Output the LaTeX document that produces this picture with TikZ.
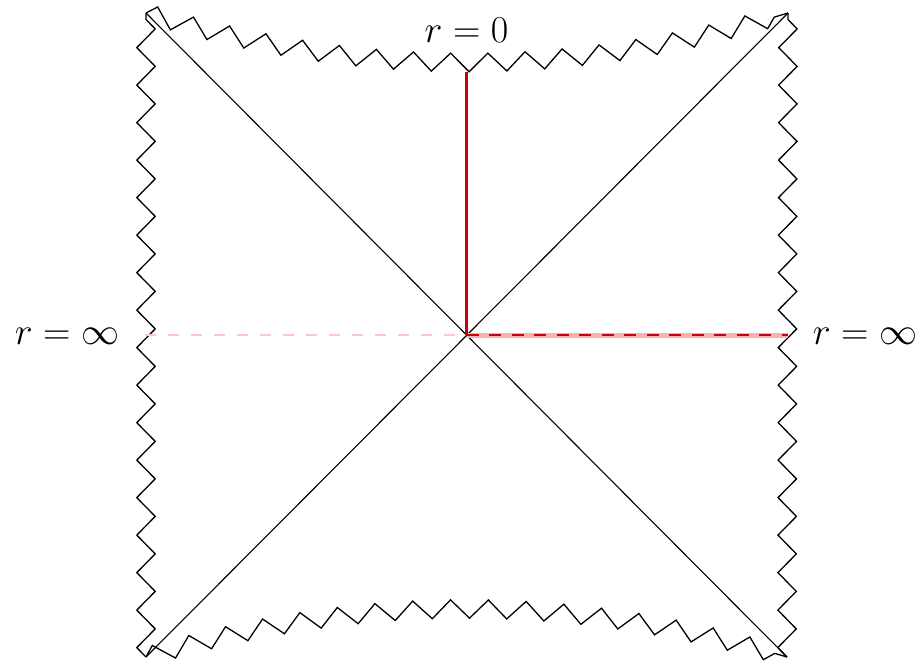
\documentclass[tikz,border=0pt]{standalone}
\usetikzlibrary{decorations.pathmorphing}
\definecolor{dred}{RGB}{200,0,10}
\definecolor{bandpink}{RGB}{250,175,180}
\definecolor{lpink}{RGB}{255,200,200}
\begin{document}
\begin{tikzpicture}[x=0.5pt,y=-0.5pt,
  zz/.style={draw=black, line width=0.65pt, decorate,
    decoration={zigzag, segment length=18.75pt, amplitude=4.6pt}},
  diag/.style={draw=black, line width=0.55pt},
  redline/.style={draw=dred, line width=1.5pt},
  bandline/.style={draw=bandpink, line width=2.5pt},
  reddash/.style={draw=dred, line width=1.2pt, dash pattern=on 6pt off 5.25pt},
  pinkdash/.style={draw=lpink, line width=0.7pt, dash pattern=on 5.5pt off 6pt},
  lbl/.style={inner sep=0pt, font=\huge, scale=0.916}]
\useasboundingbox (0,0) rectangle (923,664);
\coordinate (TL) at (146,13);
\coordinate (TR) at (788,13);
\coordinate (BL) at (146,657);
\coordinate (BR) at (787,657);
\coordinate (C) at (466.5,335);
\coordinate (T) at (466.5,72);
\coordinate (L) at (145,335);
\coordinate (R) at (787.5,335);
% zigzag boundaries
\draw[zz] (TL) .. controls (359.7,79) and (574.3,79) .. (TR);
\draw[zz] (BL) .. controls (359.7,593) and (573.3,593) .. (BR);
\draw[zz] (BL) -- (TL);
\draw[zz] (BR) -- (TR);
% diagonals
\draw[diag] (TL) -- (BR);
\draw[diag] (TR) -- (BL);
% horizontal lines
\draw[pinkdash] (L) -- (C);
\draw[bandline] (C) -- (R);
\draw[reddash] (C) -- (R);
% vertical red line
\draw[redline] (C) -- (T);
% labels
\node[lbl] (top) at (466.5,30) {$r=0$};
\node[lbl] (left) at (67,336) {$r=\infty$};
\node[lbl] (right) at (865,336) {$r=\infty$};
\end{tikzpicture}
\end{document}
